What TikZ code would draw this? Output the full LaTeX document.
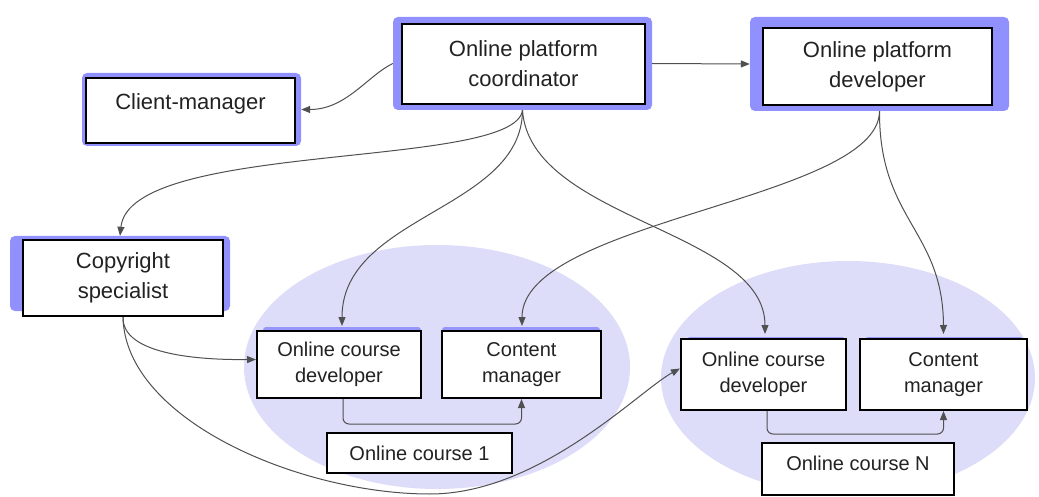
\documentclass[tikz,border=0pt]{standalone}
\usepackage{fontspec}
\setmainfont{Liberation Sans}
\usetikzlibrary{arrows.meta}
\definecolor{outerblue}{RGB}{144,144,255}
\definecolor{stripblue}{RGB}{150,150,250}
\definecolor{ellfill}{RGB}{221,221,250}
\definecolor{linec}{RGB}{80,80,80}
\definecolor{txt}{RGB}{34,34,34}
\begin{document}
\begin{tikzpicture}[x=1pt,y=-1pt,
  outer/.style={fill=outerblue, draw=none, rounded corners=5pt, inner sep=0pt},
  strip/.style={fill=stripblue, draw=none, rounded corners=3pt, inner sep=0pt},
  bigbox/.style={draw=black, line width=2.2pt, fill=white, align=center, text=txt,
    font=\fontsize{22}{30}\selectfont, inner sep=0pt},
  smallbox/.style={draw=black, line width=2pt, fill=white, align=center, text=txt,
    font=\fontsize{20}{26}\selectfont, inner sep=0pt},
  conn/.style={draw=linec, line width=1pt, -{Triangle[length=9pt,width=7pt]}},
]
\useasboundingbox (0,0) rectangle (1039,497);
\fill[white] (0,0) rectangle (1039,497);

% course groups
\fill[ellfill] (437,367) ellipse [x radius=193pt, y radius=122pt];
\fill[ellfill] (848,378) ellipse [x radius=187pt, y radius=117pt];

% top level boxes
\node[outer, minimum width=259pt, minimum height=93pt] (coordO) at (522.5,63.5) {};
\node[bigbox, minimum width=243pt, minimum height=80pt] (coord) at (523.5,64) {Online platform\\coordinator};

\node[outer, minimum width=219pt, minimum height=73pt] (clientO) at (191.5,109.5) {};
\node[bigbox, minimum width=209pt, minimum height=65pt, text height=16pt, text depth=17pt] (client) at (190.5,110.5) {Client-manager};

\node[outer, minimum width=220pt, minimum height=75pt] (copyO) at (120,273.5) {};
\node[bigbox, minimum width=200pt, minimum height=76pt] (copy) at (123,278) {Copyright\\specialist};

\node[outer, minimum width=259pt, minimum height=94pt] (pdevO) at (879.5,64) {};
\node[bigbox, minimum width=229pt, minimum height=77pt] (pdev) at (877.5,66.5) {Online platform\\developer};

% course 1
\node[strip, minimum width=158pt, minimum height=50pt] (ocd1s) at (342,352) {};
\node[smallbox, minimum width=164pt, minimum height=67pt] (ocd1) at (339,364.5) {Online course\\developer};
\node[strip, minimum width=158pt, minimum height=50pt] (cm1s) at (521,352) {};
\node[smallbox, minimum width=159pt, minimum height=67pt] (cm1) at (521.5,364.5) {Content\\manager};
\node[smallbox, minimum width=185pt, minimum height=40pt] (oc1) at (419.5,453) {Online course 1};

% course N
\node[strip, minimum width=158pt, minimum height=50pt] (ocd2s) at (766,362) {};
\node[smallbox, minimum width=165pt, minimum height=71pt] (ocd2) at (763.5,374.5) {Online course\\developer};
\node[strip, minimum width=158pt, minimum height=50pt] (cm2s) at (944,362) {};
\node[smallbox, minimum width=167pt, minimum height=71pt] (cm2) at (943.5,374.5) {Content\\manager};
\node[smallbox, minimum width=192pt, minimum height=52pt, text height=14pt, text depth=12pt] (ocN) at (858,469) {Online course N};

% connectors
\draw[conn] (coordO.west) .. controls +(-25,12) and +(45,0) .. (clientO.east);
\draw[conn] (coordO.east) -- (pdevO.west);
\draw[conn] (coordO.south) .. controls (515,170) and (130,140) .. (copyO.north);
\draw[conn] (coordO.south) .. controls (522,210) and (342,215) .. ([shift={(3pt,4pt)}]ocd1.north);
\draw[conn] (coordO.south) .. controls (530,220) and (765,230) .. ([shift={(1.5pt,4pt)}]ocd2.north);
\draw[conn] (pdevO.south) .. controls (879,200) and (522,220) .. ([shift={(0.5pt,4pt)}]cm1.north);
\draw[conn] (pdevO.south) .. controls (879,220) and (943,230) .. ([yshift=4pt]cm2.north);
\draw[conn] (copy.south) .. controls (122,355) and (200,360) .. ([yshift=5pt]ocd1.west);
\draw[conn] (copy.south) .. controls (125,420) and (300,494) .. (430,494)
  .. controls (540,494) and (640,390) .. ([yshift=6pt]ocd2.west);
\draw[conn, rounded corners=6pt] ([xshift=4pt]ocd1.south) -- ++(0,25) -| (cm1.south);
\draw[conn, rounded corners=6pt] ([xshift=3.5pt]ocd2.south) -- ++(0,23) -| (cm2.south);
\end{tikzpicture}
\end{document}
